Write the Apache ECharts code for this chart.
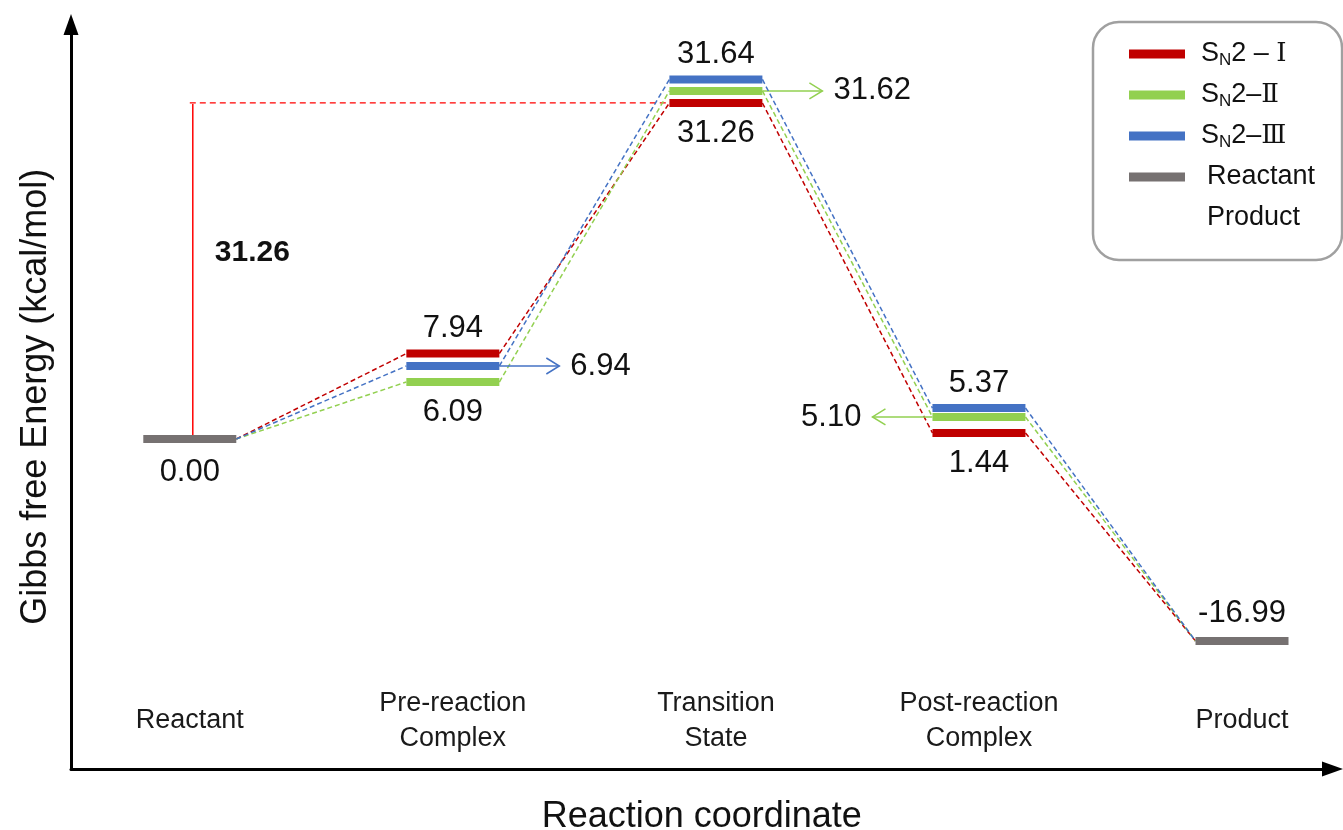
<!DOCTYPE html>
<html><head><meta charset="utf-8">
<script src="https://cdn.jsdelivr.net/npm/echarts@6/dist/echarts.min.js"></script>
<style>html,body{margin:0;padding:0;background:#fff}#c{width:1343px;height:830px}</style>
</head><body><div id="c"></div>
<script>
// ---- data ----
const stages = ['Reactant', 'Pre-reaction\nComplex', 'Transition\nState', 'Post-reaction\nComplex', 'Product'];
const pathwayNames = ['SN2-I', 'SN2-II', 'SN2-III'];
// Gibbs free energies printed on the diagram (kcal/mol)
const energyI = [0.00, 7.94, 31.26, 1.44, -16.99];
const energyII = [0.00, 6.09, 31.62, 5.10, -16.99];
const energyIII = [0.00, 6.94, 31.64, 5.37, -16.99];
// heights at which the levels are drawn (schematic diagram), kcal/mol units
const levelI = [0.00, 7.95, 31.26, 0.56, -18.79];
const levelII = [0.00, 5.30, 32.38, 2.05, -18.79];
const levelIII = [0.00, 6.79, 33.45, 2.88, -18.79];

// ---- style / layout ----
const FONT = '"Liberation Sans", Arial, sans-serif';
const COLORS = ['#C00000', '#92D050', '#4472C4'];
const GRAY = '#767171';
const HALF = 46.5, BAR_H = 8;
const X_MIN = -0.4516, X_MAX = 4.344, Y_MIN = -30.70, Y_MAX = 38.56;
const TOP_OFF = -25, BOT_OFF = 30, ARROW_LEN = 60;
// where each stage's energy label goes, per pathway
const placesI = [null, 'top', 'bottom', 'bottom', null];
const placesII = [null, 'bottom', 'right', 'left', null];
const placesIII = [null, 'right', 'top', 'top', null];

function numText(x, y, txt, align) {
  return {type: 'text', style: {text: txt, x: x, y: y, align: align || 'center', verticalAlign: 'middle',
    fontSize: 31, fontFamily: FONT, fill: '#111'}};
}

function labelFor(p, txt, place, color, ch, off) {
  if (place === 'top') ch.push(numText(p[0], p[1] + (off || TOP_OFF), txt));
  else if (place === 'bottom') ch.push(numText(p[0], p[1] + (off || BOT_OFF), txt));
  else if (place === 'right' || place === 'left') {
    const s = place === 'right' ? 1 : -1;
    const x0 = p[0] + s * HALF, x1 = x0 + s * ARROW_LEN, y = p[1];
    ch.push({type: 'line', shape: {x1: x0, y1: y, x2: x1, y2: y}, style: {stroke: color, lineWidth: 1.5}});
    ch.push({type: 'polyline', shape: {points: [[x1 - s * 13, y - 8], [x1, y], [x1 - s * 13, y + 8]]},
      style: {stroke: color, lineWidth: 1.5, fill: null}});
    ch.push(numText(x1 + s * 11, y, txt, s > 0 ? 'left' : 'right'));
  }
}

function makePathway(name, levels, energies, places, color) {
  return {
    type: 'custom', name: name, coordinateSystem: 'cartesian2d',
    itemStyle: {color: color},
    data: levels.map((v, i) => [i, v]),
    encode: {x: 0, y: 1},
    renderItem: function (params, api) {
      const i = params.dataIndex;
      const p = api.coord([api.value(0), api.value(1)]);
      const ch = [];
      if (i > 0) {
        const q = api.coord([i - 1, levels[i - 1]]);
        ch.push({type: 'line', shape: {x1: q[0] + HALF, y1: q[1], x2: p[0] - HALF, y2: p[1]},
          style: {stroke: color, lineWidth: 1.5, lineDash: [5, 3]}});
      }
      if (i > 0 && i < levels.length - 1) {
        ch.push({type: 'rect', shape: {x: p[0] - HALF, y: p[1] - BAR_H / 2, width: 2 * HALF, height: BAR_H},
          style: {fill: color}});
        labelFor(p, energies[i].toFixed(2), places[i], color, ch);
      }
      return {type: 'group', children: ch};
    }
  };
}

function makeEndpoint(name, idx, place, off) {
  return {
    type: 'custom', name: name, coordinateSystem: 'cartesian2d',
    itemStyle: {color: GRAY},
    data: [[idx, levelI[idx]]],
    encode: {x: 0, y: 1},
    renderItem: function (params, api) {
      const p = api.coord([api.value(0), api.value(1)]);
      const ch = [{type: 'rect', shape: {x: p[0] - HALF, y: p[1] - BAR_H / 2, width: 2 * HALF, height: BAR_H},
        style: {fill: GRAY}}];
      labelFor(p, energyI[idx].toFixed(2), place, GRAY, ch, off);
      return {type: 'group', children: ch};
    }
  };
}

const barrierSeries = {
  type: 'custom', name: 'barrier', coordinateSystem: 'cartesian2d', silent: true,
  data: [[0, levelI[0]]],
  encode: {x: 0, y: 1},
  renderItem: function (params, api) {
    const p0 = api.coord([0, levelI[0]]);
    const p2 = api.coord([2, levelI[2]]);
    const xv = p0[0] + 3;
    return {type: 'group', children: [
      {type: 'line', shape: {x1: xv, y1: p0[1] - BAR_H / 2, x2: xv, y2: p2[1] + 1}, style: {stroke: '#FF0000', lineWidth: 1.5}},
      {type: 'line', shape: {x1: xv - 3, y1: p2[1], x2: p2[0] - HALF, y2: p2[1]},
        style: {stroke: '#FF0000', lineWidth: 1.3, lineDash: [6, 4]}},
      {type: 'text', style: {text: (energyI[2] - energyI[0]).toFixed(2), x: xv + 22, y: (p0[1] + p2[1]) / 2 - 18,
        align: 'left', verticalAlign: 'middle', fontSize: 30, fontWeight: 'bold', fontFamily: FONT, fill: '#111'}}
    ]};
  }
};

const stageSeries = {
  type: 'custom', name: 'stages', coordinateSystem: 'cartesian2d', silent: true,
  data: stages.map((s, i) => [i, Y_MIN]),
  encode: {x: 0, y: 1},
  renderItem: function (params, api) {
    const p = api.coord([api.value(0), api.value(1)]);
    return {type: 'text', style: {text: stages[params.dataIndex], x: p[0], y: p[1] - 48, align: 'center',
      verticalAlign: 'middle', fontSize: 27, lineHeight: 35, fontFamily: FONT, fill: '#1a1a1a'}};
  }
};

const legendText = {
  'SN2-I': '{sp| }{t|S}{sub|N}{t|2 – }{r|Ⅰ}',
  'SN2-II': '{sp| }{t|S}{sub|N}{t|2–}{r|Ⅱ}',
  'SN2-III': '{sp| }{t|S}{sub|N}{t|2–}{r|Ⅲ}',
  'Reactant': '{sp2| }{t|Reactant}',
  'Product': '{sp2| }{t|Product}'
};

const chart = echarts.init(document.getElementById('c'), null, {renderer: 'canvas'});
chart.setOption({
  animation: false,
  backgroundColor: '#fff',
  grid: {left: 71, right: 10.5, top: 24.5, bottom: 61, containLabel: false, outerBoundsMode: 'none'},
  xAxis: {
    type: 'value', min: X_MIN, max: X_MAX,
    name: 'Reaction coordinate', nameLocation: 'middle', nameGap: 30,
    nameTextStyle: {fontSize: 36, fontFamily: FONT, color: '#111'},
    axisLine: {onZero: false, symbol: ['none', 'triangle'], symbolSize: [15, 21], lineStyle: {color: '#000', width: 3}},
    axisTick: {show: false}, axisLabel: {show: false}, splitLine: {show: false}
  },
  yAxis: {
    type: 'value', min: Y_MIN, max: Y_MAX,
    name: 'Gibbs free Energy (kcal/mol)', nameLocation: 'middle', nameGap: 17,
    nameTextStyle: {fontSize: 36, fontFamily: FONT, color: '#111'},
    axisLine: {onZero: false, symbol: ['none', 'triangle'], symbolSize: [15, 21], lineStyle: {color: '#000', width: 3}},
    axisTick: {show: false}, axisLabel: {show: false}, splitLine: {show: false}
  },
  legend: {
    data: [{name: 'SN2-I'}, {name: 'SN2-II'}, {name: 'SN2-III'}, {name: 'Reactant'},
      {name: 'Product', itemStyle: {opacity: 0}}],
    orient: 'vertical', left: 1093, top: 22, padding: [17, 27, 27, 36], itemGap: 11,
    itemWidth: 56, itemHeight: 9, icon: 'rect', selectedMode: false,
    borderColor: '#a0a0a0', borderWidth: 2.5, borderRadius: 26, backgroundColor: '#fff',
    formatter: function (name) { return legendText[name]; },
    textStyle: {fontSize: 27, fontFamily: FONT, color: '#111', lineHeight: 30,
      rich: {
        sp: {width: 11},
        sp2: {width: 17},
        t: {fontSize: 27, fontFamily: FONT, color: '#111', lineHeight: 30},
        sub: {fontSize: 17, fontFamily: FONT, color: '#111', lineHeight: 14, verticalAlign: 'bottom'},
        r: {fontSize: 26, fontFamily: '"DejaVu Serif", serif', color: '#111', lineHeight: 30}
      }}
  },
  series: [
    barrierSeries,
    makePathway(pathwayNames[0], levelI, energyI, placesI, COLORS[0]),
    makePathway(pathwayNames[1], levelII, energyII, placesII, COLORS[1]),
    makePathway(pathwayNames[2], levelIII, energyIII, placesIII, COLORS[2]),
    makeEndpoint('Reactant', 0, 'bottom', 33),
    makeEndpoint('Product', 4, 'top', -28),
    stageSeries
  ]
});
</script></body></html>
